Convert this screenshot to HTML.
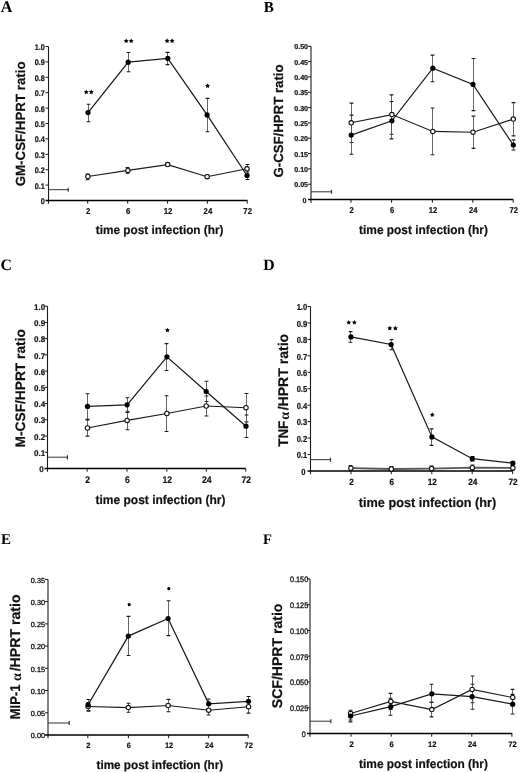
<!DOCTYPE html>
<html><head><meta charset="utf-8"><style>
html,body{margin:0;padding:0;background:#fff;}
body{width:520px;height:773px;overflow:hidden;}
svg{display:block;will-change:transform;text-rendering:geometricPrecision;}
.b{font-family:"Liberation Sans",sans-serif;font-weight:bold;fill:#111;stroke:#111;stroke-width:0.2px;}
.r{font-family:"Liberation Sans",sans-serif;font-weight:normal;fill:#111;stroke:#111;stroke-width:0.3px;}
.al{font-family:"Liberation Serif",serif;font-weight:normal;font-size:1.05em;}
.al2{font-family:"Liberation Serif",serif;font-weight:normal;font-size:0.95em;}
.alpha{font-family:"Liberation Serif",serif;font-weight:bold;fill:#111;}
.bt{font-family:"Liberation Sans",sans-serif;font-weight:bold;fill:#111;stroke:#111;stroke-width:0.18px;}
.rt{font-family:"Liberation Sans",sans-serif;font-weight:normal;fill:#111;stroke:#111;stroke-width:0.3px;}
.L{font-family:"Liberation Serif",serif;font-weight:bold;fill:#000;}
</style></head><body>
<svg width="520" height="773" viewBox="0 0 520 773">
<rect width="520" height="773" fill="#fff"/>
<line x1="48.5" y1="46.5" x2="48.5" y2="203.7" stroke="#1a1a1a" stroke-width="1.1"/>
<line x1="45.5" y1="200.5" x2="247.5" y2="200.5" stroke="#000" stroke-width="1.3"/>
<text transform="translate(44.9,204.03) scale(1,1.12)" text-anchor="end" class="bt" font-size="7.3">0</text>
<line x1="45.5" y1="185.1" x2="48.5" y2="185.1" stroke="#1a1a1a" stroke-width="1"/>
<text transform="translate(44.9,188.63) scale(1,1.12)" text-anchor="end" class="bt" font-size="7.3">0.1</text>
<line x1="45.5" y1="169.7" x2="48.5" y2="169.7" stroke="#1a1a1a" stroke-width="1"/>
<text transform="translate(44.9,173.23) scale(1,1.12)" text-anchor="end" class="bt" font-size="7.3">0.2</text>
<line x1="45.5" y1="154.3" x2="48.5" y2="154.3" stroke="#1a1a1a" stroke-width="1"/>
<text transform="translate(44.9,157.83) scale(1,1.12)" text-anchor="end" class="bt" font-size="7.3">0.3</text>
<line x1="45.5" y1="138.9" x2="48.5" y2="138.9" stroke="#1a1a1a" stroke-width="1"/>
<text transform="translate(44.9,142.43) scale(1,1.12)" text-anchor="end" class="bt" font-size="7.3">0.4</text>
<line x1="45.5" y1="123.5" x2="48.5" y2="123.5" stroke="#1a1a1a" stroke-width="1"/>
<text transform="translate(44.9,127.03) scale(1,1.12)" text-anchor="end" class="bt" font-size="7.3">0.5</text>
<line x1="45.5" y1="108.1" x2="48.5" y2="108.1" stroke="#1a1a1a" stroke-width="1"/>
<text transform="translate(44.9,111.63) scale(1,1.12)" text-anchor="end" class="bt" font-size="7.3">0.6</text>
<line x1="45.5" y1="92.7" x2="48.5" y2="92.7" stroke="#1a1a1a" stroke-width="1"/>
<text transform="translate(44.9,96.23) scale(1,1.12)" text-anchor="end" class="bt" font-size="7.3">0.7</text>
<line x1="45.5" y1="77.3" x2="48.5" y2="77.3" stroke="#1a1a1a" stroke-width="1"/>
<text transform="translate(44.9,80.83) scale(1,1.12)" text-anchor="end" class="bt" font-size="7.3">0.8</text>
<line x1="45.5" y1="61.9" x2="48.5" y2="61.9" stroke="#1a1a1a" stroke-width="1"/>
<text transform="translate(44.9,65.43) scale(1,1.12)" text-anchor="end" class="bt" font-size="7.3">0.9</text>
<line x1="45.5" y1="46.5" x2="48.5" y2="46.5" stroke="#1a1a1a" stroke-width="1"/>
<text transform="translate(44.9,50.03) scale(1,1.12)" text-anchor="end" class="bt" font-size="7.3">1.0</text>
<line x1="87.7" y1="200.5" x2="87.7" y2="203.7" stroke="#1a1a1a" stroke-width="1"/>
<text transform="translate(88.2,213.87) scale(1,1.1)" text-anchor="middle" class="bt" font-size="7.8">2</text>
<line x1="127.7" y1="200.5" x2="127.7" y2="203.7" stroke="#1a1a1a" stroke-width="1"/>
<text transform="translate(128.2,213.87) scale(1,1.1)" text-anchor="middle" class="bt" font-size="7.8">6</text>
<line x1="167.6" y1="200.5" x2="167.6" y2="203.7" stroke="#1a1a1a" stroke-width="1"/>
<text transform="translate(168.1,213.87) scale(1,1.1)" text-anchor="middle" class="bt" font-size="7.8">12</text>
<line x1="207.4" y1="200.5" x2="207.4" y2="203.7" stroke="#1a1a1a" stroke-width="1"/>
<text transform="translate(207.9,213.87) scale(1,1.1)" text-anchor="middle" class="bt" font-size="7.8">24</text>
<line x1="247.2" y1="200.5" x2="247.2" y2="203.7" stroke="#1a1a1a" stroke-width="1"/>
<text transform="translate(247.7,213.87) scale(1,1.1)" text-anchor="middle" class="bt" font-size="7.8">72</text>
<text transform="translate(159.6,234.4) scale(1,1.04)" text-anchor="middle" class="b" font-size="11.8">time post infection (hr)</text>
<text transform="translate(25.1,123.9) rotate(-90)" text-anchor="middle" class="b" font-size="13.3">GM-CSF/HPRT ratio</text>
<text x="0.8" y="11.8" class="L" font-size="16.2">A</text>
<line x1="48.5" y1="189.7" x2="68.2" y2="189.7" stroke="#333" stroke-width="1"/>
<line x1="68.2" y1="187.7" x2="68.2" y2="191.7" stroke="#333" stroke-width="1.2"/>
<path d="M87.5 174V179.8" stroke="#555" stroke-width="0.9" fill="none"/>
<path d="M85.6 174H89.4M85.6 179.8H89.4" stroke="#1a1a1a" stroke-width="1.1" fill="none"/>
<path d="M127.5 167.5V173.3" stroke="#555" stroke-width="0.9" fill="none"/>
<path d="M125.6 167.5H129.4M125.6 173.3H129.4" stroke="#1a1a1a" stroke-width="1.1" fill="none"/>
<path d="M167.5 163V166.2" stroke="#555" stroke-width="0.9" fill="none"/>
<path d="M165.6 163H169.4M165.6 166.2H169.4" stroke="#1a1a1a" stroke-width="1.1" fill="none"/>
<path d="M207.5 175V178.5" stroke="#555" stroke-width="0.9" fill="none"/>
<path d="M205.6 175H209.4M205.6 178.5H209.4" stroke="#1a1a1a" stroke-width="1.1" fill="none"/>
<path d="M247.5 164.5V173" stroke="#555" stroke-width="0.9" fill="none"/>
<path d="M245.6 164.5H249.4M245.6 173H249.4" stroke="#1a1a1a" stroke-width="1.1" fill="none"/>
<path d="M88.5 104.3V121.8" stroke="#555" stroke-width="0.9" fill="none"/>
<path d="M86.6 104.3H90.4M86.6 121.8H90.4" stroke="#1a1a1a" stroke-width="1.1" fill="none"/>
<path d="M128.5 52.5V71.8" stroke="#555" stroke-width="0.9" fill="none"/>
<path d="M126.6 52.5H130.4M126.6 71.8H130.4" stroke="#1a1a1a" stroke-width="1.1" fill="none"/>
<path d="M167.5 52.4V64.6" stroke="#555" stroke-width="0.9" fill="none"/>
<path d="M165.6 52.4H169.4M165.6 64.6H169.4" stroke="#1a1a1a" stroke-width="1.1" fill="none"/>
<path d="M207.5 98.4V131.8" stroke="#555" stroke-width="0.9" fill="none"/>
<path d="M205.6 98.4H209.4M205.6 131.8H209.4" stroke="#1a1a1a" stroke-width="1.1" fill="none"/>
<path d="M247.5 171V179.5" stroke="#555" stroke-width="0.9" fill="none"/>
<path d="M245.6 171H249.4M245.6 179.5H249.4" stroke="#1a1a1a" stroke-width="1.1" fill="none"/>
<path d="M87.9 176.5 L127.9 170.4 L167.7 164.6 L207.1 176.7 L247 168.8" stroke="#1a1a1a" stroke-width="1.1" fill="none"/>
<path d="M88 112.6 L128.2 62.2 L167.8 58.4 L207.1 114.9 L247 175.5" stroke="#1a1a1a" stroke-width="1.25" fill="none"/>
<circle cx="87.9" cy="176.5" r="2.2" fill="#fff" stroke="#111" stroke-width="1.1"/>
<circle cx="127.9" cy="170.4" r="2.2" fill="#fff" stroke="#111" stroke-width="1.1"/>
<circle cx="167.7" cy="164.6" r="2.2" fill="#fff" stroke="#111" stroke-width="1.1"/>
<circle cx="207.1" cy="176.7" r="2.2" fill="#fff" stroke="#111" stroke-width="1.1"/>
<circle cx="247" cy="168.8" r="2.2" fill="#fff" stroke="#111" stroke-width="1.1"/>
<circle cx="88" cy="112.6" r="2.6" fill="#000"/>
<circle cx="128.2" cy="62.2" r="2.6" fill="#000"/>
<circle cx="167.8" cy="58.4" r="2.6" fill="#000"/>
<circle cx="207.1" cy="114.9" r="2.6" fill="#000"/>
<circle cx="247" cy="175.5" r="2.6" fill="#000"/>
<polygon points="86.30,89.60 87.09,91.01 88.68,91.33 87.58,92.52 87.77,94.12 86.30,93.45 84.83,94.12 85.02,92.52 83.92,91.33 85.51,91.01" fill="#000"/>
<polygon points="91.30,89.60 92.09,91.01 93.68,91.33 92.58,92.52 92.77,94.12 91.30,93.45 89.83,94.12 90.02,92.52 88.92,91.33 90.51,91.01" fill="#000"/>
<polygon points="126.20,38.50 126.99,39.91 128.58,40.23 127.48,41.42 127.67,43.02 126.20,42.35 124.73,43.02 124.92,41.42 123.82,40.23 125.41,39.91" fill="#000"/>
<polygon points="131.20,38.50 131.99,39.91 133.58,40.23 132.48,41.42 132.67,43.02 131.20,42.35 129.73,43.02 129.92,41.42 128.82,40.23 130.41,39.91" fill="#000"/>
<polygon points="167.10,38.40 167.89,39.81 169.48,40.13 168.38,41.32 168.57,42.92 167.10,42.25 165.63,42.92 165.82,41.32 164.72,40.13 166.31,39.81" fill="#000"/>
<polygon points="172.10,38.40 172.89,39.81 174.48,40.13 173.38,41.32 173.57,42.92 172.10,42.25 170.63,42.92 170.82,41.32 169.72,40.13 171.31,39.81" fill="#000"/>
<polygon points="207.60,83.40 208.39,84.81 209.98,85.13 208.88,86.32 209.07,87.92 207.60,87.25 206.13,87.92 206.32,86.32 205.22,85.13 206.81,84.81" fill="#000"/>
<line x1="311" y1="46.3" x2="311" y2="202.7" stroke="#1a1a1a" stroke-width="1.1"/>
<line x1="308" y1="199.5" x2="513.3" y2="199.5" stroke="#000" stroke-width="1.3"/>
<text transform="translate(306.4,202.66) scale(1,1.0)" text-anchor="end" class="bt" font-size="7.15">0</text>
<line x1="308" y1="184.18" x2="311" y2="184.18" stroke="#1a1a1a" stroke-width="1"/>
<text transform="translate(308.1,187.34) scale(1,1.0)" text-anchor="end" class="bt" font-size="7.15">0.05</text>
<line x1="308" y1="168.86" x2="311" y2="168.86" stroke="#1a1a1a" stroke-width="1"/>
<text transform="translate(308.1,172.02) scale(1,1.0)" text-anchor="end" class="bt" font-size="7.15">0.10</text>
<line x1="308" y1="153.54" x2="311" y2="153.54" stroke="#1a1a1a" stroke-width="1"/>
<text transform="translate(308.1,156.7) scale(1,1.0)" text-anchor="end" class="bt" font-size="7.15">0.15</text>
<line x1="308" y1="138.22" x2="311" y2="138.22" stroke="#1a1a1a" stroke-width="1"/>
<text transform="translate(308.1,141.38) scale(1,1.0)" text-anchor="end" class="bt" font-size="7.15">0.20</text>
<line x1="308" y1="122.9" x2="311" y2="122.9" stroke="#1a1a1a" stroke-width="1"/>
<text transform="translate(308.1,126.06) scale(1,1.0)" text-anchor="end" class="bt" font-size="7.15">0.25</text>
<line x1="308" y1="107.58" x2="311" y2="107.58" stroke="#1a1a1a" stroke-width="1"/>
<text transform="translate(308.1,110.74) scale(1,1.0)" text-anchor="end" class="bt" font-size="7.15">0.30</text>
<line x1="308" y1="92.26" x2="311" y2="92.26" stroke="#1a1a1a" stroke-width="1"/>
<text transform="translate(308.1,95.42) scale(1,1.0)" text-anchor="end" class="bt" font-size="7.15">0.35</text>
<line x1="308" y1="76.94" x2="311" y2="76.94" stroke="#1a1a1a" stroke-width="1"/>
<text transform="translate(308.1,80.1) scale(1,1.0)" text-anchor="end" class="bt" font-size="7.15">0.40</text>
<line x1="308" y1="61.62" x2="311" y2="61.62" stroke="#1a1a1a" stroke-width="1"/>
<text transform="translate(308.1,64.78) scale(1,1.0)" text-anchor="end" class="bt" font-size="7.15">0.45</text>
<line x1="308" y1="46.3" x2="311" y2="46.3" stroke="#1a1a1a" stroke-width="1"/>
<text transform="translate(308.1,49.46) scale(1,1.0)" text-anchor="end" class="bt" font-size="7.15">0.50</text>
<line x1="351" y1="199.5" x2="351" y2="202.7" stroke="#1a1a1a" stroke-width="1"/>
<text transform="translate(351.5,213.05) scale(1,1.12)" text-anchor="middle" class="bt" font-size="7.6">2</text>
<line x1="391.6" y1="199.5" x2="391.6" y2="202.7" stroke="#1a1a1a" stroke-width="1"/>
<text transform="translate(392.1,213.05) scale(1,1.12)" text-anchor="middle" class="bt" font-size="7.6">6</text>
<line x1="432.4" y1="199.5" x2="432.4" y2="202.7" stroke="#1a1a1a" stroke-width="1"/>
<text transform="translate(432.9,213.05) scale(1,1.12)" text-anchor="middle" class="bt" font-size="7.6">12</text>
<line x1="472.8" y1="199.5" x2="472.8" y2="202.7" stroke="#1a1a1a" stroke-width="1"/>
<text transform="translate(473.3,213.05) scale(1,1.12)" text-anchor="middle" class="bt" font-size="7.6">24</text>
<line x1="513.2" y1="199.5" x2="513.2" y2="202.7" stroke="#1a1a1a" stroke-width="1"/>
<text transform="translate(513.7,213.05) scale(1,1.12)" text-anchor="middle" class="bt" font-size="7.6">72</text>
<text transform="translate(423.5,233.6) scale(1,1.04)" text-anchor="middle" class="b" font-size="11.9">time post infection (hr)</text>
<text transform="translate(282.8,121) rotate(-90)" text-anchor="middle" class="b" font-size="13.22">G-CSF/HPRT ratio</text>
<text x="263.8" y="11.5" class="L" font-size="15.2">B</text>
<line x1="311" y1="191.8" x2="331.5" y2="191.8" stroke="#333" stroke-width="1"/>
<line x1="331.5" y1="189.8" x2="331.5" y2="193.8" stroke="#333" stroke-width="1.2"/>
<path d="M351.5 103.1V142.5" stroke="#555" stroke-width="0.9" fill="none"/>
<path d="M349.6 103.1H353.4M349.6 142.5H353.4" stroke="#1a1a1a" stroke-width="1.1" fill="none"/>
<path d="M391.5 94.9V134.3" stroke="#555" stroke-width="0.9" fill="none"/>
<path d="M389.6 94.9H393.4M389.6 134.3H393.4" stroke="#1a1a1a" stroke-width="1.1" fill="none"/>
<path d="M432.5 108V154.7" stroke="#555" stroke-width="0.9" fill="none"/>
<path d="M430.6 108H434.4M430.6 154.7H434.4" stroke="#1a1a1a" stroke-width="1.1" fill="none"/>
<path d="M473.5 116.1V148.4" stroke="#555" stroke-width="0.9" fill="none"/>
<path d="M471.6 116.1H475.4M471.6 148.4H475.4" stroke="#1a1a1a" stroke-width="1.1" fill="none"/>
<path d="M513.5 102.6V135.9" stroke="#555" stroke-width="0.9" fill="none"/>
<path d="M511.6 102.6H515.4M511.6 135.9H515.4" stroke="#1a1a1a" stroke-width="1.1" fill="none"/>
<path d="M351.5 115.1V154.3" stroke="#555" stroke-width="0.9" fill="none"/>
<path d="M349.6 115.1H353.4M349.6 154.3H353.4" stroke="#1a1a1a" stroke-width="1.1" fill="none"/>
<path d="M391.5 101.5V138.9" stroke="#555" stroke-width="0.9" fill="none"/>
<path d="M389.6 101.5H393.4M389.6 138.9H393.4" stroke="#1a1a1a" stroke-width="1.1" fill="none"/>
<path d="M432.5 55.1V81.8" stroke="#555" stroke-width="0.9" fill="none"/>
<path d="M430.6 55.1H434.4M430.6 81.8H434.4" stroke="#1a1a1a" stroke-width="1.1" fill="none"/>
<path d="M473.5 58.5V110.6" stroke="#555" stroke-width="0.9" fill="none"/>
<path d="M471.6 58.5H475.4M471.6 110.6H475.4" stroke="#1a1a1a" stroke-width="1.1" fill="none"/>
<path d="M513.5 139.9V150" stroke="#555" stroke-width="0.9" fill="none"/>
<path d="M511.6 139.9H515.4M511.6 150H515.4" stroke="#1a1a1a" stroke-width="1.1" fill="none"/>
<path d="M351.2 122.8 L391.9 114.6 L432.8 131.4 L473 132.2 L513.3 119.1" stroke="#1a1a1a" stroke-width="1.1" fill="none"/>
<path d="M351.2 135.1 L391.9 120.8 L432.8 68.2 L473 84.4 L513.3 145" stroke="#1a1a1a" stroke-width="1.25" fill="none"/>
<circle cx="351.2" cy="122.8" r="2.2" fill="#fff" stroke="#111" stroke-width="1.1"/>
<circle cx="391.9" cy="114.6" r="2.2" fill="#fff" stroke="#111" stroke-width="1.1"/>
<circle cx="432.8" cy="131.4" r="2.2" fill="#fff" stroke="#111" stroke-width="1.1"/>
<circle cx="473" cy="132.2" r="2.2" fill="#fff" stroke="#111" stroke-width="1.1"/>
<circle cx="513.3" cy="119.1" r="2.2" fill="#fff" stroke="#111" stroke-width="1.1"/>
<circle cx="351.2" cy="135.1" r="2.6" fill="#000"/>
<circle cx="391.9" cy="120.8" r="2.6" fill="#000"/>
<circle cx="432.8" cy="68.2" r="2.6" fill="#000"/>
<circle cx="473" cy="84.4" r="2.6" fill="#000"/>
<circle cx="513.3" cy="145" r="2.6" fill="#000"/>
<line x1="47.5" y1="306.2" x2="47.5" y2="471.7" stroke="#1a1a1a" stroke-width="1.1"/>
<line x1="44.5" y1="468.5" x2="245.8" y2="468.5" stroke="#000" stroke-width="1.3"/>
<text transform="translate(43.7,472.11) scale(1,1.05)" text-anchor="end" class="bt" font-size="8.0">0</text>
<line x1="44.5" y1="452.27" x2="47.5" y2="452.27" stroke="#1a1a1a" stroke-width="1"/>
<text transform="translate(45.1,455.88) scale(1,1.05)" text-anchor="end" class="bt" font-size="8.0">0.1</text>
<line x1="44.5" y1="436.04" x2="47.5" y2="436.04" stroke="#1a1a1a" stroke-width="1"/>
<text transform="translate(45.1,439.65) scale(1,1.05)" text-anchor="end" class="bt" font-size="8.0">0.2</text>
<line x1="44.5" y1="419.81" x2="47.5" y2="419.81" stroke="#1a1a1a" stroke-width="1"/>
<text transform="translate(45.1,423.42) scale(1,1.05)" text-anchor="end" class="bt" font-size="8.0">0.3</text>
<line x1="44.5" y1="403.58" x2="47.5" y2="403.58" stroke="#1a1a1a" stroke-width="1"/>
<text transform="translate(45.1,407.19) scale(1,1.05)" text-anchor="end" class="bt" font-size="8.0">0.4</text>
<line x1="44.5" y1="387.35" x2="47.5" y2="387.35" stroke="#1a1a1a" stroke-width="1"/>
<text transform="translate(45.1,390.96) scale(1,1.05)" text-anchor="end" class="bt" font-size="8.0">0.5</text>
<line x1="44.5" y1="371.12" x2="47.5" y2="371.12" stroke="#1a1a1a" stroke-width="1"/>
<text transform="translate(45.1,374.73) scale(1,1.05)" text-anchor="end" class="bt" font-size="8.0">0.6</text>
<line x1="44.5" y1="354.89" x2="47.5" y2="354.89" stroke="#1a1a1a" stroke-width="1"/>
<text transform="translate(45.1,358.5) scale(1,1.05)" text-anchor="end" class="bt" font-size="8.0">0.7</text>
<line x1="44.5" y1="338.66" x2="47.5" y2="338.66" stroke="#1a1a1a" stroke-width="1"/>
<text transform="translate(45.1,342.27) scale(1,1.05)" text-anchor="end" class="bt" font-size="8.0">0.8</text>
<line x1="44.5" y1="322.43" x2="47.5" y2="322.43" stroke="#1a1a1a" stroke-width="1"/>
<text transform="translate(45.1,326.04) scale(1,1.05)" text-anchor="end" class="bt" font-size="8.0">0.9</text>
<line x1="44.5" y1="306.2" x2="47.5" y2="306.2" stroke="#1a1a1a" stroke-width="1"/>
<text transform="translate(45.1,309.81) scale(1,1.05)" text-anchor="end" class="bt" font-size="8.0">1.0</text>
<line x1="87.2" y1="468.5" x2="87.2" y2="471.7" stroke="#1a1a1a" stroke-width="1"/>
<text transform="translate(87.7,482.95) scale(1,1.12)" text-anchor="middle" class="bt" font-size="8.6">2</text>
<line x1="127" y1="468.5" x2="127" y2="471.7" stroke="#1a1a1a" stroke-width="1"/>
<text transform="translate(127.5,482.95) scale(1,1.12)" text-anchor="middle" class="bt" font-size="8.6">6</text>
<line x1="166.8" y1="468.5" x2="166.8" y2="471.7" stroke="#1a1a1a" stroke-width="1"/>
<text transform="translate(167.3,482.95) scale(1,1.12)" text-anchor="middle" class="bt" font-size="8.6">12</text>
<line x1="206.3" y1="468.5" x2="206.3" y2="471.7" stroke="#1a1a1a" stroke-width="1"/>
<text transform="translate(206.8,482.95) scale(1,1.12)" text-anchor="middle" class="bt" font-size="8.6">24</text>
<line x1="245.8" y1="468.5" x2="245.8" y2="471.7" stroke="#1a1a1a" stroke-width="1"/>
<text transform="translate(246.3,482.95) scale(1,1.12)" text-anchor="middle" class="bt" font-size="8.6">72</text>
<text transform="translate(160.5,504.3) scale(1,1.04)" text-anchor="middle" class="b" font-size="12.0">time post infection (hr)</text>
<text transform="translate(25.4,388.3) rotate(-90)" text-anchor="middle" class="b" font-size="13.74">M-CSF/HPRT ratio</text>
<text x="0.4" y="269.9" class="L" font-size="15.8">C</text>
<line x1="47.5" y1="457.2" x2="67.4" y2="457.2" stroke="#333" stroke-width="1"/>
<line x1="67.4" y1="455.2" x2="67.4" y2="459.2" stroke="#333" stroke-width="1.2"/>
<path d="M87.5 420V436.1" stroke="#555" stroke-width="0.9" fill="none"/>
<path d="M85.6 420H89.4M85.6 436.1H89.4" stroke="#1a1a1a" stroke-width="1.1" fill="none"/>
<path d="M127.5 412.5V429.7" stroke="#555" stroke-width="0.9" fill="none"/>
<path d="M125.6 412.5H129.4M125.6 429.7H129.4" stroke="#1a1a1a" stroke-width="1.1" fill="none"/>
<path d="M166.5 395.7V431.5" stroke="#555" stroke-width="0.9" fill="none"/>
<path d="M164.6 395.7H168.4M164.6 431.5H168.4" stroke="#1a1a1a" stroke-width="1.1" fill="none"/>
<path d="M206.5 396V416" stroke="#555" stroke-width="0.9" fill="none"/>
<path d="M204.6 396H208.4M204.6 416H208.4" stroke="#1a1a1a" stroke-width="1.1" fill="none"/>
<path d="M246.5 393.5V421.9" stroke="#555" stroke-width="0.9" fill="none"/>
<path d="M244.6 393.5H248.4M244.6 421.9H248.4" stroke="#1a1a1a" stroke-width="1.1" fill="none"/>
<path d="M87.5 393.7V419.4" stroke="#555" stroke-width="0.9" fill="none"/>
<path d="M85.6 393.7H89.4M85.6 419.4H89.4" stroke="#1a1a1a" stroke-width="1.1" fill="none"/>
<path d="M127.5 397.7V411.3" stroke="#555" stroke-width="0.9" fill="none"/>
<path d="M125.6 397.7H129.4M125.6 411.3H129.4" stroke="#1a1a1a" stroke-width="1.1" fill="none"/>
<path d="M166.5 343.6V370.5" stroke="#555" stroke-width="0.9" fill="none"/>
<path d="M164.6 343.6H168.4M164.6 370.5H168.4" stroke="#1a1a1a" stroke-width="1.1" fill="none"/>
<path d="M206.5 381.3V401.5" stroke="#555" stroke-width="0.9" fill="none"/>
<path d="M204.6 381.3H208.4M204.6 401.5H208.4" stroke="#1a1a1a" stroke-width="1.1" fill="none"/>
<path d="M246.5 415V437.5" stroke="#555" stroke-width="0.9" fill="none"/>
<path d="M244.6 415H248.4M244.6 437.5H248.4" stroke="#1a1a1a" stroke-width="1.1" fill="none"/>
<path d="M87.5 428 L127.1 420.4 L166.9 413.5 L206.2 406 L246 407.7" stroke="#1a1a1a" stroke-width="1.1" fill="none"/>
<path d="M87.5 406.4 L127.1 404.8 L166.9 356.8 L206.2 391.5 L246 426.2" stroke="#1a1a1a" stroke-width="1.25" fill="none"/>
<circle cx="87.5" cy="428" r="2.2" fill="#fff" stroke="#111" stroke-width="1.1"/>
<circle cx="127.1" cy="420.4" r="2.2" fill="#fff" stroke="#111" stroke-width="1.1"/>
<circle cx="166.9" cy="413.5" r="2.2" fill="#fff" stroke="#111" stroke-width="1.1"/>
<circle cx="206.2" cy="406" r="2.2" fill="#fff" stroke="#111" stroke-width="1.1"/>
<circle cx="246" cy="407.7" r="2.2" fill="#fff" stroke="#111" stroke-width="1.1"/>
<circle cx="87.5" cy="406.4" r="2.6" fill="#000"/>
<circle cx="127.1" cy="404.8" r="2.6" fill="#000"/>
<circle cx="166.9" cy="356.8" r="2.6" fill="#000"/>
<circle cx="206.2" cy="391.5" r="2.6" fill="#000"/>
<circle cx="246" cy="426.2" r="2.6" fill="#000"/>
<polygon points="167.40,327.70 168.19,329.11 169.78,329.43 168.68,330.62 168.87,332.22 167.40,331.55 165.93,332.22 166.12,330.62 165.02,329.43 166.61,329.11" fill="#000"/>
<line x1="310.5" y1="306.5" x2="310.5" y2="474.2" stroke="#1a1a1a" stroke-width="1.1"/>
<line x1="307.5" y1="471" x2="512.6" y2="471" stroke="#000" stroke-width="1.3"/>
<text transform="translate(305.5,474.73) scale(1,1.15)" text-anchor="end" class="bt" font-size="7.6">0</text>
<line x1="307.5" y1="454.55" x2="310.5" y2="454.55" stroke="#1a1a1a" stroke-width="1"/>
<text transform="translate(307.2,458.28) scale(1,1.15)" text-anchor="end" class="bt" font-size="7.6">0.1</text>
<line x1="307.5" y1="438.1" x2="310.5" y2="438.1" stroke="#1a1a1a" stroke-width="1"/>
<text transform="translate(307.2,441.83) scale(1,1.15)" text-anchor="end" class="bt" font-size="7.6">0.2</text>
<line x1="307.5" y1="421.65" x2="310.5" y2="421.65" stroke="#1a1a1a" stroke-width="1"/>
<text transform="translate(307.2,425.38) scale(1,1.15)" text-anchor="end" class="bt" font-size="7.6">0.3</text>
<line x1="307.5" y1="405.2" x2="310.5" y2="405.2" stroke="#1a1a1a" stroke-width="1"/>
<text transform="translate(307.2,408.93) scale(1,1.15)" text-anchor="end" class="bt" font-size="7.6">0.4</text>
<line x1="307.5" y1="388.75" x2="310.5" y2="388.75" stroke="#1a1a1a" stroke-width="1"/>
<text transform="translate(307.2,392.48) scale(1,1.15)" text-anchor="end" class="bt" font-size="7.6">0.5</text>
<line x1="307.5" y1="372.3" x2="310.5" y2="372.3" stroke="#1a1a1a" stroke-width="1"/>
<text transform="translate(307.2,376.03) scale(1,1.15)" text-anchor="end" class="bt" font-size="7.6">0.6</text>
<line x1="307.5" y1="355.85" x2="310.5" y2="355.85" stroke="#1a1a1a" stroke-width="1"/>
<text transform="translate(307.2,359.58) scale(1,1.15)" text-anchor="end" class="bt" font-size="7.6">0.7</text>
<line x1="307.5" y1="339.4" x2="310.5" y2="339.4" stroke="#1a1a1a" stroke-width="1"/>
<text transform="translate(307.2,343.13) scale(1,1.15)" text-anchor="end" class="bt" font-size="7.6">0.8</text>
<line x1="307.5" y1="322.95" x2="310.5" y2="322.95" stroke="#1a1a1a" stroke-width="1"/>
<text transform="translate(307.2,326.68) scale(1,1.15)" text-anchor="end" class="bt" font-size="7.6">0.9</text>
<line x1="307.5" y1="306.5" x2="310.5" y2="306.5" stroke="#1a1a1a" stroke-width="1"/>
<text transform="translate(307.2,310.23) scale(1,1.15)" text-anchor="end" class="bt" font-size="7.6">1.0</text>
<line x1="351" y1="471" x2="351" y2="474.2" stroke="#1a1a1a" stroke-width="1"/>
<text transform="translate(351.5,485.03) scale(1,1.1)" text-anchor="middle" class="bt" font-size="8.2">2</text>
<line x1="391.3" y1="471" x2="391.3" y2="474.2" stroke="#1a1a1a" stroke-width="1"/>
<text transform="translate(391.8,485.03) scale(1,1.1)" text-anchor="middle" class="bt" font-size="8.2">6</text>
<line x1="431.8" y1="471" x2="431.8" y2="474.2" stroke="#1a1a1a" stroke-width="1"/>
<text transform="translate(432.3,485.03) scale(1,1.1)" text-anchor="middle" class="bt" font-size="8.2">12</text>
<line x1="472.2" y1="471" x2="472.2" y2="474.2" stroke="#1a1a1a" stroke-width="1"/>
<text transform="translate(472.7,485.03) scale(1,1.1)" text-anchor="middle" class="bt" font-size="8.2">24</text>
<line x1="512.6" y1="471" x2="512.6" y2="474.2" stroke="#1a1a1a" stroke-width="1"/>
<text transform="translate(513.1,485.03) scale(1,1.1)" text-anchor="middle" class="bt" font-size="8.2">72</text>
<text transform="translate(427.5,507.2) scale(1,1.04)" text-anchor="middle" class="b" font-size="12.7">time post infection (hr)</text>
<g transform="translate(287.8,0) rotate(-90)"><text x="-446.8" y="0" textLength="26.1" lengthAdjust="spacingAndGlyphs" class="b" font-size="13.9">TNF</text><text x="-415.8" y="1.6" text-anchor="middle" class="alpha" font-size="14">α</text><text x="-410.3" y="0" textLength="76.4" lengthAdjust="spacingAndGlyphs" class="b" font-size="14">/HPRT ratio</text></g>
<text x="263.3" y="269.7" class="L" font-size="15.8">D</text>
<line x1="310.5" y1="459.7" x2="330.5" y2="459.7" stroke="#333" stroke-width="1"/>
<line x1="330.5" y1="457.7" x2="330.5" y2="461.7" stroke="#333" stroke-width="1.2"/>
<path d="M350.5 465.5V471" stroke="#555" stroke-width="0.9" fill="none"/>
<path d="M348.6 465.5H352.4M348.6 471H352.4" stroke="#1a1a1a" stroke-width="1.1" fill="none"/>
<path d="M391.5 466.5V471.5" stroke="#555" stroke-width="0.9" fill="none"/>
<path d="M389.6 466.5H393.4M389.6 471.5H393.4" stroke="#1a1a1a" stroke-width="1.1" fill="none"/>
<path d="M431.5 466V471" stroke="#555" stroke-width="0.9" fill="none"/>
<path d="M429.6 466H433.4M429.6 471H433.4" stroke="#1a1a1a" stroke-width="1.1" fill="none"/>
<path d="M472.5 465V470.5" stroke="#555" stroke-width="0.9" fill="none"/>
<path d="M470.6 465H474.4M470.6 470.5H474.4" stroke="#1a1a1a" stroke-width="1.1" fill="none"/>
<path d="M512.5 465.5V470.5" stroke="#555" stroke-width="0.9" fill="none"/>
<path d="M510.6 465.5H514.4M510.6 470.5H514.4" stroke="#1a1a1a" stroke-width="1.1" fill="none"/>
<path d="M350.5 331.6V342.2" stroke="#555" stroke-width="0.9" fill="none"/>
<path d="M348.6 331.6H352.4M348.6 342.2H352.4" stroke="#1a1a1a" stroke-width="1.1" fill="none"/>
<path d="M391.5 339.6V349.8" stroke="#555" stroke-width="0.9" fill="none"/>
<path d="M389.6 339.6H393.4M389.6 349.8H393.4" stroke="#1a1a1a" stroke-width="1.1" fill="none"/>
<path d="M431.5 428.9V445.4" stroke="#555" stroke-width="0.9" fill="none"/>
<path d="M429.6 428.9H433.4M429.6 445.4H433.4" stroke="#1a1a1a" stroke-width="1.1" fill="none"/>
<path d="M472.5 456.5V461" stroke="#555" stroke-width="0.9" fill="none"/>
<path d="M470.6 456.5H474.4M470.6 461H474.4" stroke="#1a1a1a" stroke-width="1.1" fill="none"/>
<path d="M512.5 461.5V465" stroke="#555" stroke-width="0.9" fill="none"/>
<path d="M510.6 461.5H514.4M510.6 465H514.4" stroke="#1a1a1a" stroke-width="1.1" fill="none"/>
<path d="M350.9 468.2 L391.3 469 L431.6 468.6 L472.3 467.7 L512.9 467.9" stroke="#555" stroke-width="1.8" fill="none"/>
<path d="M350.9 336.9 L391.1 344.5 L431.9 436.9 L472.3 458.7 L512.9 463.1" stroke="#1a1a1a" stroke-width="1.25" fill="none"/>
<circle cx="350.9" cy="468.2" r="2.2" fill="#fff" stroke="#111" stroke-width="1.1"/>
<circle cx="391.3" cy="469" r="2.2" fill="#fff" stroke="#111" stroke-width="1.1"/>
<circle cx="431.6" cy="468.6" r="2.2" fill="#fff" stroke="#111" stroke-width="1.1"/>
<circle cx="472.3" cy="467.7" r="2.2" fill="#fff" stroke="#111" stroke-width="1.1"/>
<circle cx="512.9" cy="467.9" r="2.2" fill="#fff" stroke="#111" stroke-width="1.1"/>
<circle cx="350.9" cy="336.9" r="2.6" fill="#000"/>
<circle cx="391.1" cy="344.5" r="2.6" fill="#000"/>
<circle cx="431.9" cy="436.9" r="2.6" fill="#000"/>
<circle cx="472.3" cy="458.7" r="2.6" fill="#000"/>
<circle cx="512.9" cy="463.1" r="2.6" fill="#000"/>
<polygon points="348.75,320.00 349.54,321.41 351.13,321.73 350.03,322.92 350.22,324.52 348.75,323.85 347.28,324.52 347.47,322.92 346.37,321.73 347.96,321.41" fill="#000"/>
<polygon points="354.35,320.00 355.14,321.41 356.73,321.73 355.63,322.92 355.82,324.52 354.35,323.85 352.88,324.52 353.07,322.92 351.97,321.73 353.56,321.41" fill="#000"/>
<polygon points="389.80,325.80 390.59,327.21 392.18,327.53 391.08,328.72 391.27,330.32 389.80,329.65 388.33,330.32 388.52,328.72 387.42,327.53 389.01,327.21" fill="#000"/>
<polygon points="395.40,325.80 396.19,327.21 397.78,327.53 396.68,328.72 396.87,330.32 395.40,329.65 393.93,330.32 394.12,328.72 393.02,327.53 394.61,327.21" fill="#000"/>
<polygon points="432.30,412.30 433.09,413.71 434.68,414.03 433.58,415.22 433.77,416.82 432.30,416.15 430.83,416.82 431.02,415.22 429.92,414.03 431.51,413.71" fill="#000"/>
<line x1="48" y1="579.4" x2="48" y2="738.2" stroke="#1a1a1a" stroke-width="1.1"/>
<line x1="45" y1="735" x2="248.2" y2="735" stroke="#000" stroke-width="1.3"/>
<text transform="translate(45,738.21) scale(1,1.0)" text-anchor="end" class="rt" font-size="7.3">0.00</text>
<line x1="45" y1="712.77" x2="48" y2="712.77" stroke="#1a1a1a" stroke-width="1"/>
<text transform="translate(45,715.98) scale(1,1.0)" text-anchor="end" class="rt" font-size="7.3">0.05</text>
<line x1="45" y1="690.54" x2="48" y2="690.54" stroke="#1a1a1a" stroke-width="1"/>
<text transform="translate(45,693.76) scale(1,1.0)" text-anchor="end" class="rt" font-size="7.3">0.10</text>
<line x1="45" y1="668.31" x2="48" y2="668.31" stroke="#1a1a1a" stroke-width="1"/>
<text transform="translate(45,671.53) scale(1,1.0)" text-anchor="end" class="rt" font-size="7.3">0.15</text>
<line x1="45" y1="646.09" x2="48" y2="646.09" stroke="#1a1a1a" stroke-width="1"/>
<text transform="translate(45,649.3) scale(1,1.0)" text-anchor="end" class="rt" font-size="7.3">0.20</text>
<line x1="45" y1="623.86" x2="48" y2="623.86" stroke="#1a1a1a" stroke-width="1"/>
<text transform="translate(45,627.07) scale(1,1.0)" text-anchor="end" class="rt" font-size="7.3">0.25</text>
<line x1="45" y1="601.63" x2="48" y2="601.63" stroke="#1a1a1a" stroke-width="1"/>
<text transform="translate(45,604.84) scale(1,1.0)" text-anchor="end" class="rt" font-size="7.3">0.30</text>
<line x1="45" y1="579.4" x2="48" y2="579.4" stroke="#1a1a1a" stroke-width="1"/>
<text transform="translate(45,582.61) scale(1,1.0)" text-anchor="end" class="rt" font-size="7.3">0.35</text>
<line x1="87.8" y1="735" x2="87.8" y2="738.2" stroke="#1a1a1a" stroke-width="1"/>
<text transform="translate(88.3,748.32) scale(1,1.05)" text-anchor="middle" class="bt" font-size="7.5">2</text>
<line x1="128.4" y1="735" x2="128.4" y2="738.2" stroke="#1a1a1a" stroke-width="1"/>
<text transform="translate(128.9,748.32) scale(1,1.05)" text-anchor="middle" class="bt" font-size="7.5">6</text>
<line x1="168.6" y1="735" x2="168.6" y2="738.2" stroke="#1a1a1a" stroke-width="1"/>
<text transform="translate(169.1,748.32) scale(1,1.05)" text-anchor="middle" class="bt" font-size="7.5">12</text>
<line x1="208.7" y1="735" x2="208.7" y2="738.2" stroke="#1a1a1a" stroke-width="1"/>
<text transform="translate(209.2,748.32) scale(1,1.05)" text-anchor="middle" class="bt" font-size="7.5">24</text>
<line x1="248.2" y1="735" x2="248.2" y2="738.2" stroke="#1a1a1a" stroke-width="1"/>
<text transform="translate(248.7,748.32) scale(1,1.05)" text-anchor="middle" class="bt" font-size="7.5">72</text>
<text transform="translate(159.9,769.3) scale(1,1.04)" text-anchor="middle" class="b" font-size="11.7">time post infection (hr)</text>
<g transform="translate(19.6,0) rotate(-90)"><text x="-719.2" y="0" textLength="34.6" lengthAdjust="spacingAndGlyphs" class="b" font-size="14.2">MIP-1</text><text x="-677.1" y="1.4" text-anchor="middle" class="alpha" font-size="14">α</text><text x="-671.3" y="0" textLength="76.8" lengthAdjust="spacingAndGlyphs" class="b" font-size="14.2">/HPRT ratio</text></g>
<text x="0.9" y="544.1" class="L" font-size="15">E</text>
<line x1="48" y1="723" x2="69.2" y2="723" stroke="#333" stroke-width="1"/>
<line x1="69.2" y1="721" x2="69.2" y2="725" stroke="#333" stroke-width="1.2"/>
<path d="M88.5 702.5V710.5" stroke="#555" stroke-width="0.9" fill="none"/>
<path d="M86.6 702.5H90.4M86.6 710.5H90.4" stroke="#1a1a1a" stroke-width="1.1" fill="none"/>
<path d="M128.5 703.3V712.2" stroke="#555" stroke-width="0.9" fill="none"/>
<path d="M126.6 703.3H130.4M126.6 712.2H130.4" stroke="#1a1a1a" stroke-width="1.1" fill="none"/>
<path d="M168.5 699.4V711.7" stroke="#555" stroke-width="0.9" fill="none"/>
<path d="M166.6 699.4H170.4M166.6 711.7H170.4" stroke="#1a1a1a" stroke-width="1.1" fill="none"/>
<path d="M208.5 705.5V715" stroke="#555" stroke-width="0.9" fill="none"/>
<path d="M206.6 705.5H210.4M206.6 715H210.4" stroke="#1a1a1a" stroke-width="1.1" fill="none"/>
<path d="M248.5 700.5V713.1" stroke="#555" stroke-width="0.9" fill="none"/>
<path d="M246.6 700.5H250.4M246.6 713.1H250.4" stroke="#1a1a1a" stroke-width="1.1" fill="none"/>
<path d="M88.5 699.5V711.2" stroke="#555" stroke-width="0.9" fill="none"/>
<path d="M86.6 699.5H90.4M86.6 711.2H90.4" stroke="#1a1a1a" stroke-width="1.1" fill="none"/>
<path d="M128.5 616.4V655.5" stroke="#555" stroke-width="0.9" fill="none"/>
<path d="M126.6 616.4H130.4M126.6 655.5H130.4" stroke="#1a1a1a" stroke-width="1.1" fill="none"/>
<path d="M168.5 600.7V635.6" stroke="#555" stroke-width="0.9" fill="none"/>
<path d="M166.6 600.7H170.4M166.6 635.6H170.4" stroke="#1a1a1a" stroke-width="1.1" fill="none"/>
<path d="M208.5 699V708.5" stroke="#555" stroke-width="0.9" fill="none"/>
<path d="M206.6 699H210.4M206.6 708.5H210.4" stroke="#1a1a1a" stroke-width="1.1" fill="none"/>
<path d="M248.5 696.5V706" stroke="#555" stroke-width="0.9" fill="none"/>
<path d="M246.6 696.5H250.4M246.6 706H250.4" stroke="#1a1a1a" stroke-width="1.1" fill="none"/>
<path d="M88.1 706.5 L128.3 707.6 L168.1 705.5 L208.7 710.2 L248.5 706.7" stroke="#1a1a1a" stroke-width="1.1" fill="none"/>
<path d="M88.1 704.8 L128.3 636.1 L168.1 618.5 L208.7 703.8 L248.5 701.3" stroke="#1a1a1a" stroke-width="1.25" fill="none"/>
<circle cx="88.1" cy="706.5" r="2.2" fill="#fff" stroke="#111" stroke-width="1.1"/>
<circle cx="128.3" cy="707.6" r="2.2" fill="#fff" stroke="#111" stroke-width="1.1"/>
<circle cx="168.1" cy="705.5" r="2.2" fill="#fff" stroke="#111" stroke-width="1.1"/>
<circle cx="208.7" cy="710.2" r="2.2" fill="#fff" stroke="#111" stroke-width="1.1"/>
<circle cx="248.5" cy="706.7" r="2.2" fill="#fff" stroke="#111" stroke-width="1.1"/>
<circle cx="88.1" cy="704.8" r="2.6" fill="#000"/>
<circle cx="128.3" cy="636.1" r="2.6" fill="#000"/>
<circle cx="168.1" cy="618.5" r="2.6" fill="#000"/>
<circle cx="208.7" cy="703.8" r="2.6" fill="#000"/>
<circle cx="248.5" cy="701.3" r="2.6" fill="#000"/>
<polygon points="129.20,602.70 129.99,603.51 131.01,604.01 130.48,605.02 130.32,606.14 129.20,605.95 128.08,606.14 127.92,605.02 127.39,604.01 128.41,603.51" fill="#000"/>
<polygon points="168.80,586.80 169.59,587.61 170.61,588.11 170.08,589.12 169.92,590.24 168.80,590.05 167.68,590.24 167.52,589.12 166.99,588.11 168.01,587.61" fill="#000"/>
<line x1="310" y1="578.9" x2="310" y2="736.7" stroke="#1a1a1a" stroke-width="1.1"/>
<line x1="307" y1="733.5" x2="512.2" y2="733.5" stroke="#000" stroke-width="1.3"/>
<text transform="translate(305.7,736.92) scale(1,1.08)" text-anchor="end" class="rt" font-size="7.3">0</text>
<line x1="307" y1="707.73" x2="310" y2="707.73" stroke="#1a1a1a" stroke-width="1"/>
<text transform="translate(308.2,711.16) scale(1,1.08)" text-anchor="end" class="rt" font-size="7.3">0.025</text>
<line x1="307" y1="681.97" x2="310" y2="681.97" stroke="#1a1a1a" stroke-width="1"/>
<text transform="translate(308.2,685.39) scale(1,1.08)" text-anchor="end" class="rt" font-size="7.3">0.050</text>
<line x1="307" y1="656.2" x2="310" y2="656.2" stroke="#1a1a1a" stroke-width="1"/>
<text transform="translate(308.2,659.62) scale(1,1.08)" text-anchor="end" class="rt" font-size="7.3">0.075</text>
<line x1="307" y1="630.43" x2="310" y2="630.43" stroke="#1a1a1a" stroke-width="1"/>
<text transform="translate(308.2,633.86) scale(1,1.08)" text-anchor="end" class="rt" font-size="7.3">0.100</text>
<line x1="307" y1="604.67" x2="310" y2="604.67" stroke="#1a1a1a" stroke-width="1"/>
<text transform="translate(308.2,608.09) scale(1,1.08)" text-anchor="end" class="rt" font-size="7.3">0.125</text>
<line x1="307" y1="578.9" x2="310" y2="578.9" stroke="#1a1a1a" stroke-width="1"/>
<text transform="translate(308.2,582.32) scale(1,1.08)" text-anchor="end" class="rt" font-size="7.3">0.150</text>
<line x1="351" y1="733.5" x2="351" y2="736.7" stroke="#1a1a1a" stroke-width="1"/>
<text transform="translate(351.5,746.86) scale(1,1.05)" text-anchor="middle" class="bt" font-size="7.6">2</text>
<line x1="391.2" y1="733.5" x2="391.2" y2="736.7" stroke="#1a1a1a" stroke-width="1"/>
<text transform="translate(391.7,746.86) scale(1,1.05)" text-anchor="middle" class="bt" font-size="7.6">6</text>
<line x1="431.7" y1="733.5" x2="431.7" y2="736.7" stroke="#1a1a1a" stroke-width="1"/>
<text transform="translate(432.2,746.86) scale(1,1.05)" text-anchor="middle" class="bt" font-size="7.6">12</text>
<line x1="471.8" y1="733.5" x2="471.8" y2="736.7" stroke="#1a1a1a" stroke-width="1"/>
<text transform="translate(472.3,746.86) scale(1,1.05)" text-anchor="middle" class="bt" font-size="7.6">24</text>
<line x1="511.9" y1="733.5" x2="511.9" y2="736.7" stroke="#1a1a1a" stroke-width="1"/>
<text transform="translate(512.4,746.86) scale(1,1.05)" text-anchor="middle" class="bt" font-size="7.6">72</text>
<text transform="translate(423.5,767.7) scale(1,1.04)" text-anchor="middle" class="b" font-size="11.9">time post infection (hr)</text>
<text transform="translate(281.7,655.9) rotate(-90)" text-anchor="middle" class="b" font-size="14.05">SCF/HPRT ratio</text>
<text x="262.9" y="543.9" class="L" font-size="14.6">F</text>
<line x1="310" y1="721.2" x2="330.8" y2="721.2" stroke="#333" stroke-width="1"/>
<line x1="330.8" y1="719.2" x2="330.8" y2="723.2" stroke="#333" stroke-width="1.2"/>
<path d="M350.5 710.3V721.9" stroke="#555" stroke-width="0.9" fill="none"/>
<path d="M348.6 710.3H352.4M348.6 721.9H352.4" stroke="#1a1a1a" stroke-width="1.1" fill="none"/>
<path d="M390.5 693.4V709.4" stroke="#555" stroke-width="0.9" fill="none"/>
<path d="M388.6 693.4H392.4M388.6 709.4H392.4" stroke="#1a1a1a" stroke-width="1.1" fill="none"/>
<path d="M431.5 702.3V716.9" stroke="#555" stroke-width="0.9" fill="none"/>
<path d="M429.6 702.3H433.4M429.6 716.9H433.4" stroke="#1a1a1a" stroke-width="1.1" fill="none"/>
<path d="M472.5 676V702.8" stroke="#555" stroke-width="0.9" fill="none"/>
<path d="M470.6 676H474.4M470.6 702.8H474.4" stroke="#1a1a1a" stroke-width="1.1" fill="none"/>
<path d="M512.5 689.4V705.6" stroke="#555" stroke-width="0.9" fill="none"/>
<path d="M510.6 689.4H514.4M510.6 705.6H514.4" stroke="#1a1a1a" stroke-width="1.1" fill="none"/>
<path d="M350.5 712V720" stroke="#555" stroke-width="0.9" fill="none"/>
<path d="M348.6 712H352.4M348.6 720H352.4" stroke="#1a1a1a" stroke-width="1.1" fill="none"/>
<path d="M390.5 698.2V715.2" stroke="#555" stroke-width="0.9" fill="none"/>
<path d="M388.6 698.2H392.4M388.6 715.2H392.4" stroke="#1a1a1a" stroke-width="1.1" fill="none"/>
<path d="M431.5 684.2V702.3" stroke="#555" stroke-width="0.9" fill="none"/>
<path d="M429.6 684.2H433.4M429.6 702.3H433.4" stroke="#1a1a1a" stroke-width="1.1" fill="none"/>
<path d="M472.5 684.2V709.2" stroke="#555" stroke-width="0.9" fill="none"/>
<path d="M470.6 684.2H474.4M470.6 709.2H474.4" stroke="#1a1a1a" stroke-width="1.1" fill="none"/>
<path d="M512.5 694.4V714" stroke="#555" stroke-width="0.9" fill="none"/>
<path d="M510.6 694.4H514.4M510.6 714H514.4" stroke="#1a1a1a" stroke-width="1.1" fill="none"/>
<path d="M350.6 713.5 L390.8 701.4 L431.8 709.6 L472.1 689.4 L512.7 697.5" stroke="#1a1a1a" stroke-width="1.1" fill="none"/>
<path d="M350.6 716 L390.8 706.7 L431.8 693.8 L472.1 696.7 L512.7 704.2" stroke="#1a1a1a" stroke-width="1.25" fill="none"/>
<circle cx="350.6" cy="713.5" r="2.2" fill="#fff" stroke="#111" stroke-width="1.1"/>
<circle cx="390.8" cy="701.4" r="2.2" fill="#fff" stroke="#111" stroke-width="1.1"/>
<circle cx="431.8" cy="709.6" r="2.2" fill="#fff" stroke="#111" stroke-width="1.1"/>
<circle cx="472.1" cy="689.4" r="2.2" fill="#fff" stroke="#111" stroke-width="1.1"/>
<circle cx="512.7" cy="697.5" r="2.2" fill="#fff" stroke="#111" stroke-width="1.1"/>
<circle cx="350.6" cy="716" r="2.6" fill="#000"/>
<circle cx="390.8" cy="706.7" r="2.6" fill="#000"/>
<circle cx="431.8" cy="693.8" r="2.6" fill="#000"/>
<circle cx="472.1" cy="696.7" r="2.6" fill="#000"/>
<circle cx="512.7" cy="704.2" r="2.6" fill="#000"/>
</svg>
</body></html>
